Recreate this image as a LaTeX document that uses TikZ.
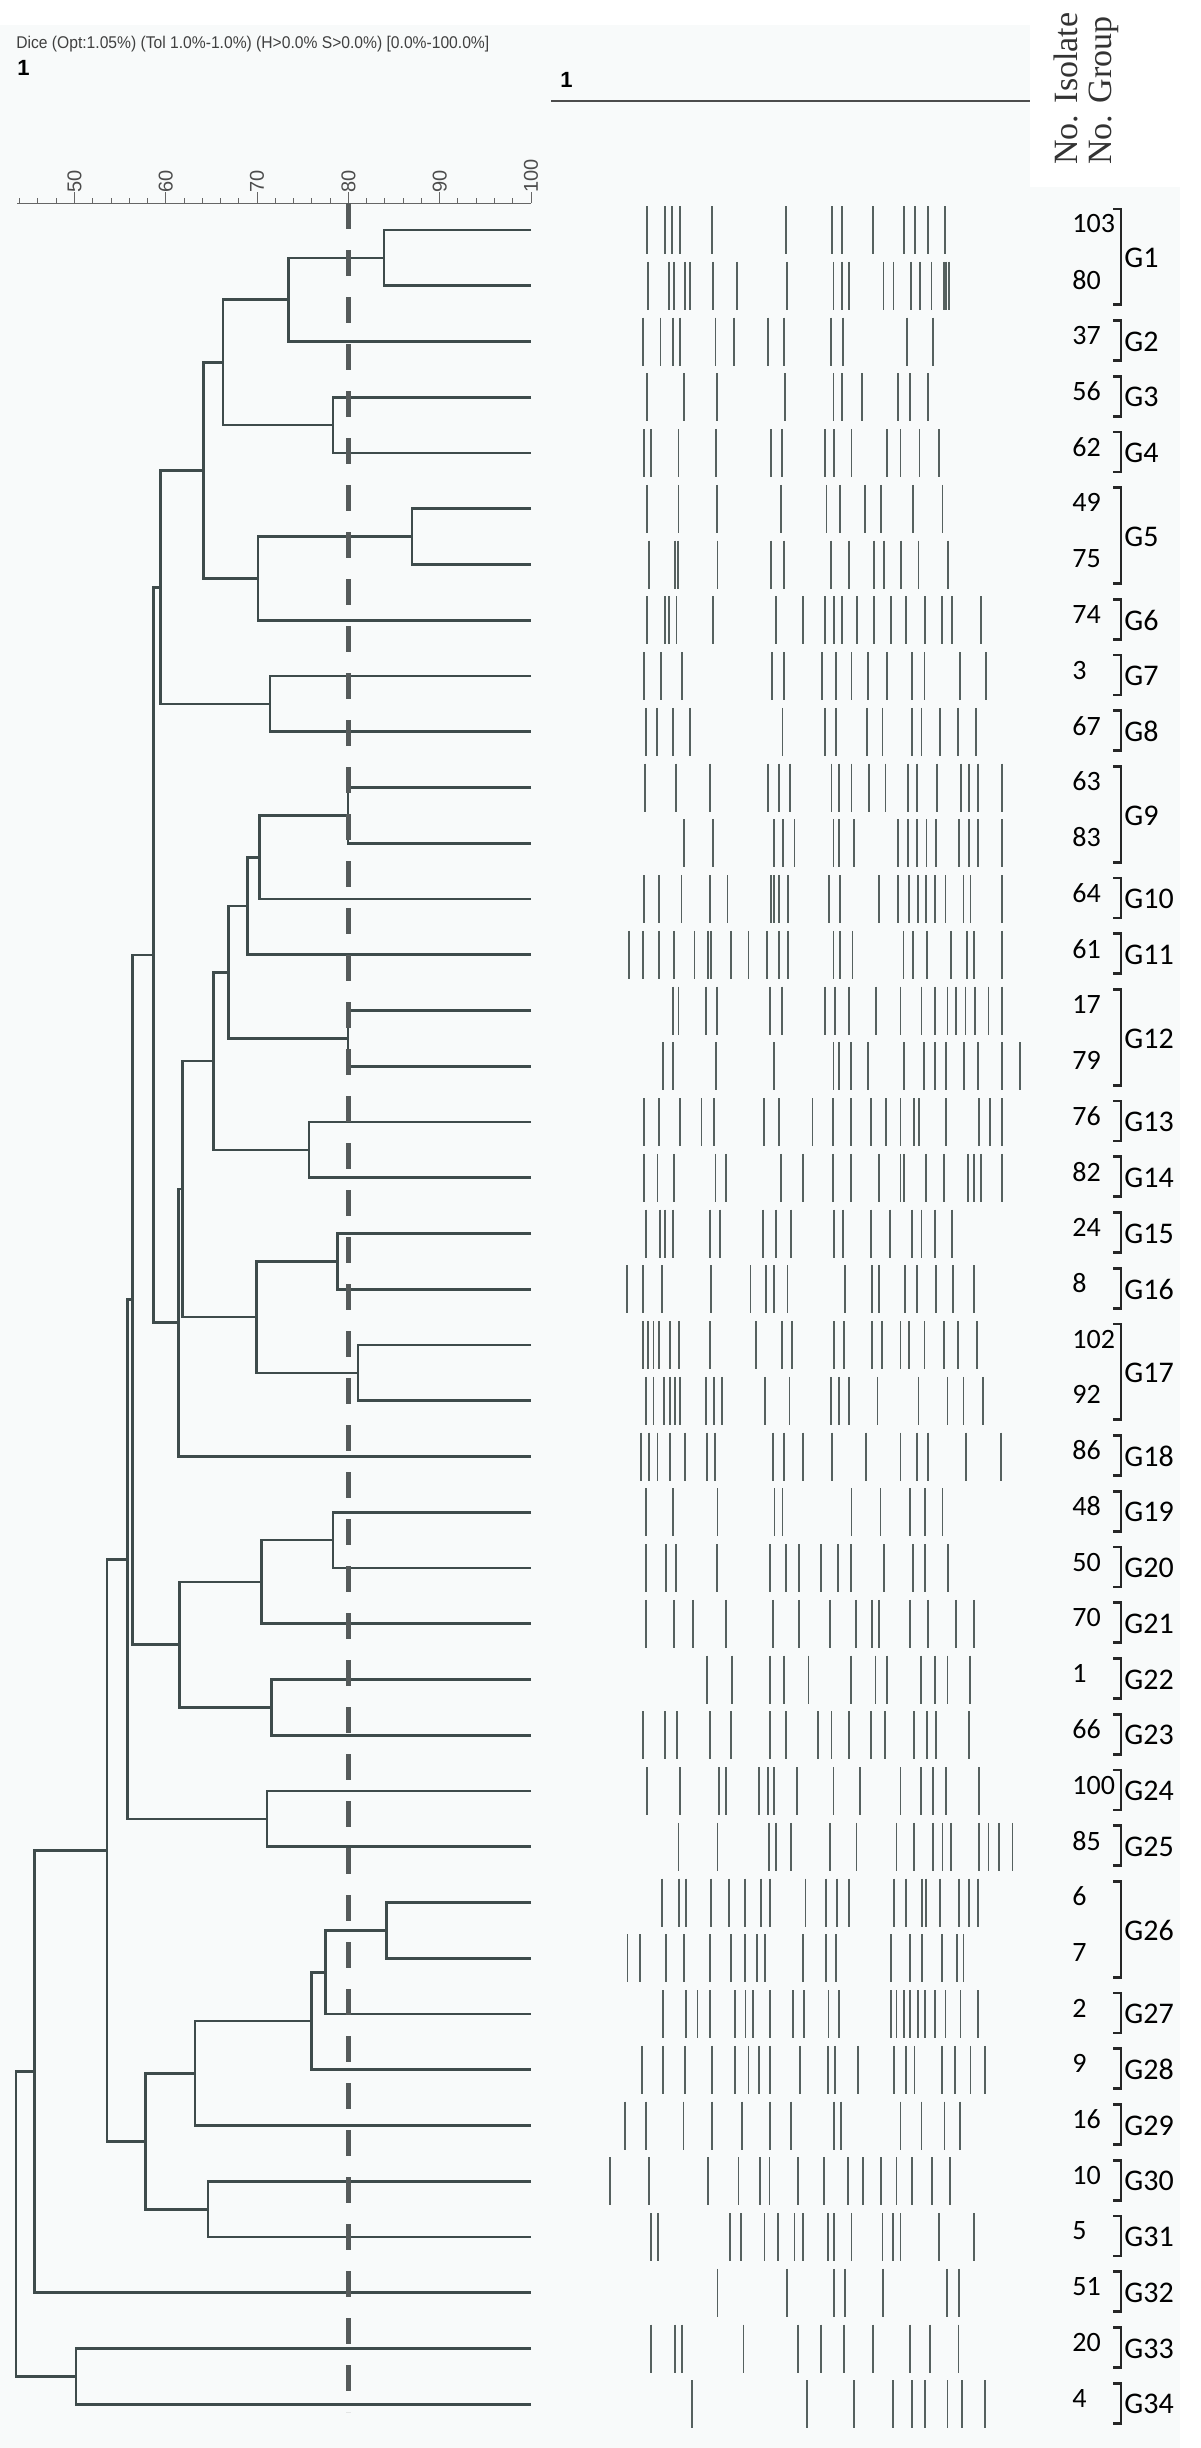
\documentclass[tikz,border=0pt]{standalone}
\usepackage{fontspec}
\setmainfont{Liberation Sans}
\newfontfamily\calfont{Carlito}
\newfontfamily\serfont{Liberation Serif}
\usetikzlibrary{calc}
\definecolor{treeGray}{HTML}{3E4B4B}
\definecolor{bandGray}{HTML}{56615F}
\definecolor{gelBack}{HTML}{F8FAFA}
\definecolor{cutGray}{HTML}{555A5A}

% one elbow of the dendrogram: name, x of the join, two children
\newcommand{\joinnode}[4]{%
  \path ($(#3)!0.5!(#4)$) coordinate (#1m) (#2,0) coordinate (#1x);
  \coordinate (#1) at (#1m -| #1x);
  \draw[tree] (#3) -| (#1) |- (#4);
}

\begin{document}
\begin{tikzpicture}[x=0.5pt, y=-0.5pt,
    tree/.style={treeGray, line width=1.35pt},
    band/.style={bandGray, line width=0.9pt},
    brk/.style={black!85, line width=1.3pt},
    iso/.style={anchor=west, inner sep=0pt, font=\calfont\fontsize{14}{14}\selectfont},
    grp/.style={anchor=west, inner sep=0pt, font=\calfont\fontsize{15}{15}\selectfont},
    scl/.style={rotate=90, anchor=west, inner sep=0pt, text=black!70, font=\fontsize{10}{10}\selectfont}]
\useasboundingbox (0,0) rectangle (1200,2448);
\fill[gelBack] (0,25) rectangle (1180,2448);
\fill[white] (1030,0) rectangle (1180,187);

% header
\node[anchor=west, inner sep=0pt, text=black!75, xscale=0.92, font=\fontsize{8.5}{8.5}\selectfont] (dice) at (16,44)
  {Dice (Opt:1.05\%) (Tol 1.0\%-1.0\%) (H>0.0\% S>0.0\%) [0.0\%-100.0\%]};
\node[anchor=west, inner sep=0pt, font=\bfseries\fontsize{11}{11}\selectfont] (one) at (17,68) {1};
\node[anchor=west, inner sep=0pt, font=\bfseries\fontsize{11}{11}\selectfont] (oneb) at (560,80) {1};
\draw[black!70, line width=1pt] (551,101) -- (1030,101);
\node[rotate=90, anchor=mid west, inner sep=0pt, text=black!80, font=\serfont\fontsize{17}{17}\selectfont] (hIso) at (1072,165) {No. Isolate};
\node[rotate=90, anchor=mid west, inner sep=0pt, text=black!80, font=\serfont\fontsize{17}{17}\selectfont] (hGrp) at (1106,165) {No. Group};

% similarity scale
\draw[black!60, line width=0.5pt] (17,203) -- (531,203);
\foreach \v in {44,46,...,100}
  \draw[black!60, line width=0.5pt] ({531-(100-\v)*9.13},203) -- ++(0,-5);
\foreach \v in {50,60,...,100}{
  \draw[black!60, line width=0.5pt] ({531-(100-\v)*9.13},203) -- ++(0,-11);
  \node[scl] (s\v) at ({531-(100-\v)*9.13},193) {\v};
}

% leaves, isolate numbers
\foreach \nm [count=\i from 0] in {103,80,37,56,62,49,75,74,3,67,63,83,64,61,17,79,76,82,24,8,102,92,86,48,50,70,1,66,100,85,6,7,2,9,16,10,5,51,20,4}{
  \coordinate (L\i) at (531,{230+55.75*\i});
  \node[iso] (iso\i) at (1072,{224+55.75*\i}) {\nm};
}

% dendrogram
\joinnode{n1}{384}{L0}{L1}
\joinnode{n2}{288.5}{n1}{L2}
\joinnode{n3}{333}{L3}{L4}
\joinnode{n4}{223}{n2}{n3}
\joinnode{n5}{412}{L5}{L6}
\joinnode{n6}{258}{n5}{L7}
\joinnode{n7}{203.5}{n4}{n6}
\joinnode{n8}{270}{L8}{L9}
\joinnode{n9}{160.7}{n7}{n8}
\joinnode{n10}{348}{L10}{L11}
\joinnode{n11}{259.6}{n10}{L12}
\joinnode{n12}{247.5}{n11}{L13}
\joinnode{n13}{348}{L14}{L15}
\joinnode{n14}{228.6}{n12}{n13}
\joinnode{n15}{309}{L16}{L17}
\joinnode{n16}{213.5}{n14}{n15}
\joinnode{n17}{337.5}{L18}{L19}
\joinnode{n18}{358}{L20}{L21}
\joinnode{n19}{256.4}{n17}{n18}
\joinnode{n20}{182.8}{n16}{n19}
\joinnode{n21}{178.6}{n20}{L22}
\joinnode{n22}{153.5}{n9}{n21}
\joinnode{n23}{333}{L23}{L24}
\joinnode{n24}{261.4}{n23}{L25}
\joinnode{n25}{271.4}{L26}{L27}
\joinnode{n26}{179.6}{n24}{n25}
\joinnode{n27}{132.8}{n22}{n26}
\joinnode{n28}{267}{L28}{L29}
\joinnode{n29}{127.5}{n27}{n28}
\joinnode{n30}{386.8}{L30}{L31}
\joinnode{n31}{325.7}{n30}{L32}
\joinnode{n32}{311.8}{n31}{L33}
\joinnode{n33}{195}{n32}{L34}
\joinnode{n34}{207.9}{L35}{L36}
\joinnode{n35}{145.3}{n33}{n34}
\joinnode{n36}{107}{n29}{n35}
\joinnode{n37}{34.6}{n36}{L37}
\joinnode{n38}{76}{L38}{L39}
\joinnode{n39}{16}{n37}{n38}

% cut-off at 80%
\draw[cutGray, line width=2.2pt, dash pattern=on 13pt off 10.5pt] (348.5,203) -- (348.5,2412);

% band patterns
\begin{scope}[shift={(600,0)}, x=0.19135pt]
\foreach \i/\bl in {
  0/{122,170,188,210,292,487,606,633,714,794,824,857,902},
  1/{125,180,193,222,236,295,357,489,610,632,650,741,767,812,836,866,898,905,912},
  2/{112,158,190,208,302,350,438,481,604,634,803,870},
  3/{122,220,305,483,610,632,684,778,810,858},
  4/{115,133,205,303,447,476,588,612,657,750,785,835,885},
  5/{122,205,305,472,592,627,692,734,818,895},
  6/{128,195,203,307,447,480,604,650,717,743,787,832,910},
  7/{122,170,180,200,295,460,530,588,612,632,672,717,760,800,850,893,920,995},
  8/{115,160,215,450,480,580,617,657,700,750,815,848,940,1008},
  9/{120,148,190,236,477,587,617,697,738,815,840,888,935,983},
  10/{118,198,287,438,467,496,605,625,657,703,746,805,828,880,944,965,988,1050},
  11/{220,296,455,478,508,610,625,664,778,805,828,853,878,938,965,988,1050},
  12/{115,155,213,288,333,446,454,468,492,598,628,728,778,808,830,852,875,903,950,968,1050},
  13/{75,113,155,193,247,283,290,343,388,437,467,492,610,627,660,793,818,855,918,958,978,1050},
  14/{190,205,278,306,445,475,588,615,650,722,785,840,875,908,930,955,980,1015,1050},
  15/{165,190,303,455,610,625,655,700,795,847,875,905,952,988,1050,1097},
  16/{115,155,210,265,298,428,468,555,608,656,708,748,785,820,833,905,990,1020,1050},
  17/{115,150,193,302,330,473,530,608,655,730,785,795,852,898,962,978,995,1050},
  18/{120,157,170,190,288,313,425,460,500,612,635,708,757,815,840,875,920},
  19/{70,112,162,290,393,433,455,490,640,710,728,798,828,878,923,978},
  20/{113,125,140,155,182,207,288,408,475,502,612,637,710,737,785,808,848,898,935,985},
  21/{120,140,168,183,195,210,278,297,318,432,495,603,625,650,725,832,908,950,1000},
  22/{108,128,150,183,222,280,300,453,480,530,606,695,785,828,858,957,1048},
  23/{120,190,307,456,477,657,733,810,850,895},
  24/{120,173,198,305,445,485,520,578,622,655,742,818,850,910},
  25/{120,193,242,330,453,520,600,668,710,728,810,857,930,978},
  26/{280,345,445,480,545,655,720,750,838,875,908,967},
  27/{112,170,202,288,342,445,486,570,605,650,708,745,820,855,878,965},
  28/{123,210,310,330,415,438,455,515,610,680,785,838,870,905,990},
  29/{205,307,442,460,500,600,670,775,820,870,895,918,990,1015,1043,1078},
  30/{163,207,225,290,337,378,420,445,537,590,620,650,768,800,842,852,888,938,965,988},
  31/{72,105,173,220,287,342,378,410,432,530,590,617,760,810,842,893,933,950},
  32/{165,225,255,288,353,380,400,445,505,533,597,625,760,775,795,810,830,850,875,903,942,987},
  33/{110,165,222,292,353,388,415,445,523,595,615,675,768,800,822,893,928,968,1005},
  34/{65,120,218,292,370,445,500,612,630,785,840,900,940},
  35/{27,128,282,362,418,443,517,585,648,688,735,775,815,868,915},
  36/{133,152,340,368,430,465,508,530,595,612,657,738,765,785,885,977},
  37/{307,488,612,640,740,907,938},
  38/{133,197,215,375,517,577,637,713,810,862,937},
  39/{240,540,663,765,815,850,908,945,1005}}
  \foreach \b in \bl
    \draw[band] (\b,{230+55.75*\i-24}) -- ++(0,48);
\end{scope}

% groups
\foreach \g/\a/\b in {1/0/1,2/2/2,3/3/3,4/4/4,5/5/6,6/7/7,7/8/8,8/9/9,9/10/11,10/12/12,
    11/13/13,12/14/15,13/16/16,14/17/17,15/18/18,16/19/19,17/20/21,18/22/22,19/23/23,20/24/24,
    21/25/25,22/26/26,23/27/27,24/28/28,25/29/29,26/30/31,27/32/32,28/33/33,29/34/34,30/35/35,
    31/36/36,32/37/37,33/38/38,34/39/39}{
  \draw[brk] (1113,{209+55.75*\a}) -- (1121,{209+55.75*\a}) -- (1121,{249+55.75*\b}) -- (1113,{249+55.75*\b});
  \node[grp] (g\g) at (1124,{230+55.75*(\a+\b)/2}) {G\g};
}
\end{tikzpicture}
\end{document}
